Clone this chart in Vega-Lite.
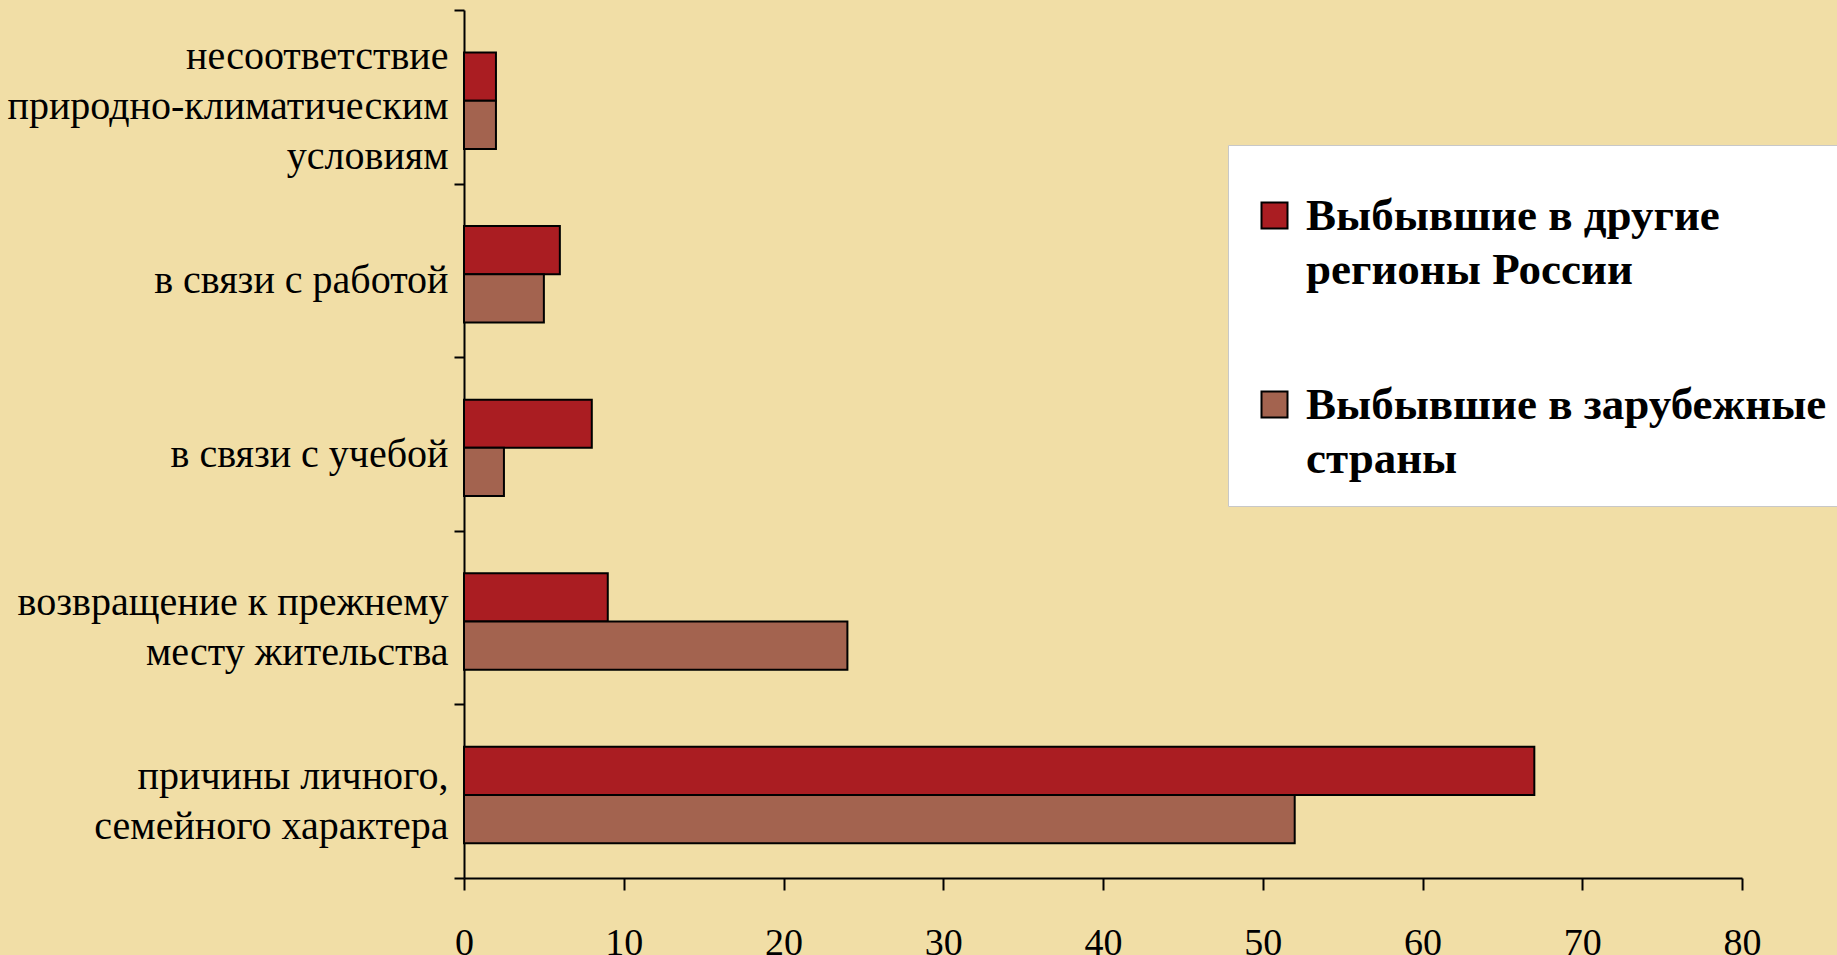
{
  "$schema": "https://vega.github.io/schema/vega-lite/v6.json",
  "description": "Причины выбытия, горизонтальная группированная диаграмма",
  "width": 1278,
  "height": 868,
  "autosize": "none",
  "padding": {"left": 464, "top": 10, "right": 95, "bottom": 77},
  "background": "#F1DEA6",
  "data": {
    "values": [
      {"cause": "несоответствие природно-климатическим условиям", "series": "Выбывшие в другие регионы России", "value": 2},
      {"cause": "несоответствие природно-климатическим условиям", "series": "Выбывшие в зарубежные страны", "value": 2},
      {"cause": "в связи с работой", "series": "Выбывшие в другие регионы России", "value": 6},
      {"cause": "в связи с работой", "series": "Выбывшие в зарубежные страны", "value": 5},
      {"cause": "в связи с учебой", "series": "Выбывшие в другие регионы России", "value": 8},
      {"cause": "в связи с учебой", "series": "Выбывшие в зарубежные страны", "value": 2.5},
      {"cause": "возвращение к прежнему месту жительства", "series": "Выбывшие в другие регионы России", "value": 9},
      {"cause": "возвращение к прежнему месту жительства", "series": "Выбывшие в зарубежные страны", "value": 24},
      {"cause": "причины личного, семейного характера", "series": "Выбывшие в другие регионы России", "value": 67},
      {"cause": "причины личного, семейного характера", "series": "Выбывшие в зарубежные страны", "value": 52}
    ]
  },
  "mark": {"type": "bar", "stroke": "#000000", "strokeWidth": 2},
  "encoding": {
    "y": {
      "field": "cause",
      "type": "nominal",
      "sort": [
        "несоответствие природно-климатическим условиям",
        "в связи с работой",
        "в связи с учебой",
        "возвращение к прежнему месту жительства",
        "причины личного, семейного характера"
      ],
      "scale": {"paddingInner": 0, "paddingOuter": 0},
      "axis": {
        "title": null,
        "tickBand": "extent",
        "domainColor": "#000000",
        "domainWidth": 2,
        "tickColor": "#000000",
        "tickWidth": 2,
        "tickSize": 10,
        "labelFont": "Liberation Serif",
        "labelFontSize": 40,
        "labelColor": "#000000",
        "labelLineHeight": 50,
        "labelPadding": 6,
        "labelLimit": 0,
        "labelExpr": "datum.value == 'несоответствие природно-климатическим условиям' ? ['несоответствие', 'природно-климатическим', 'условиям'] : datum.value == 'возвращение к прежнему месту жительства' ? ['возвращение к прежнему', 'месту жительства'] : datum.value == 'причины личного, семейного характера' ? ['причины личного,', 'семейного характера'] : datum.label",
        "labelOffset": {
          "condition": [
            {"test": "datum.value == 'несоответствие природно-климатическим условиям'", "value": -40},
            {"test": "datum.value == 'возвращение к прежнему месту жительства' || datum.value == 'причины личного, семейного характера'", "value": -15}
          ],
          "value": 10
        }
      }
    },
    "yOffset": {
      "field": "series",
      "type": "nominal",
      "sort": ["Выбывшие в другие регионы России", "Выбывшие в зарубежные страны"],
      "scale": {"paddingInner": 0, "paddingOuter": 0.8, "align": 0.55}
    },
    "x": {
      "field": "value",
      "type": "quantitative",
      "scale": {"domain": [0, 80], "nice": false},
      "axis": {
        "title": null,
        "values": [0, 10, 20, 30, 40, 50, 60, 70, 80],
        "grid": false,
        "domainColor": "#000000",
        "domainWidth": 2,
        "tickColor": "#000000",
        "tickWidth": 2,
        "tickSize": 12,
        "labelFont": "Liberation Serif",
        "labelFontSize": 38,
        "labelColor": "#000000",
        "labelPadding": 34,
        "labelFlush": false
      }
    },
    "color": {
      "field": "series",
      "type": "nominal",
      "scale": {
        "domain": ["Выбывшие в другие регионы России", "Выбывшие в зарубежные страны"],
        "range": ["#AA1D22", "#A3634F"]
      },
      "legend": {
        "title": " ",
        "titleFontSize": 10,
        "titlePadding": 14,
        "orient": "none",
        "legendX": 764,
        "legendY": 135,
        "fillColor": "#FFFFFF",
        "strokeColor": "#C8C8C8",
        "padding": 24,
        "symbolType": "square",
        "symbolSize": 676,
        "symbolStrokeColor": "#000000",
        "symbolStrokeWidth": 2,
        "labelFont": "Liberation Serif",
        "labelFontWeight": "bold",
        "labelFontSize": 45,
        "labelColor": "#000000",
        "labelLimit": 0,
        "labelOffset": 9,
        "rowPadding": 89,
        "labelExpr": "datum.label == 'Выбывшие в другие регионы России' ? ['Выбывшие в другие', 'регионы России'] : ['Выбывшие в зарубежные', 'страны']",
        "encode": {
          "labels": {"update": {"lineHeight": {"value": 54}}}
        }
      }
    }
  },
  "config": {
    "view": {"stroke": null}
  }
}
